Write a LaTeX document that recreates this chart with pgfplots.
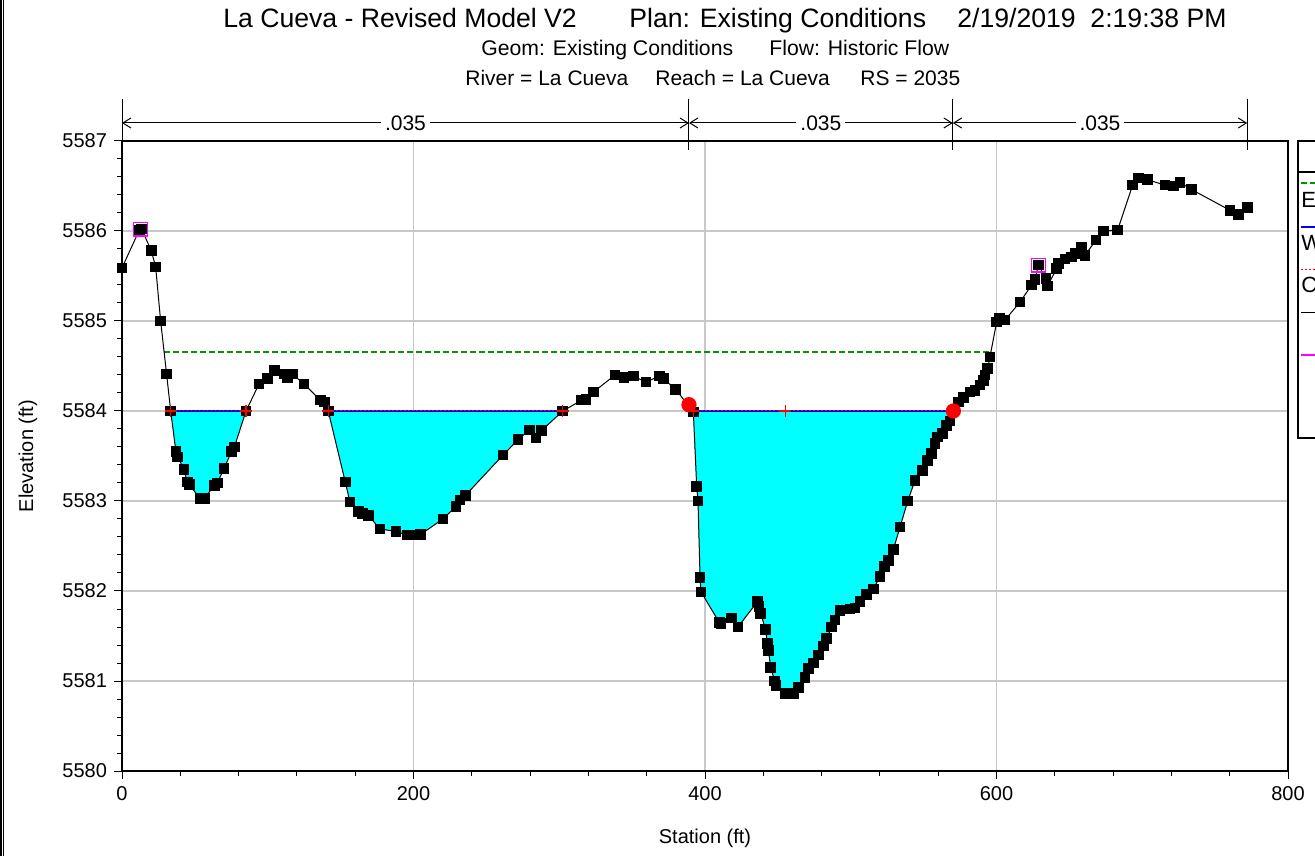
\documentclass[border=0pt]{standalone}
\usepackage{fontspec}
\setmainfont{Liberation Sans}
\usepackage{pgfplots}
\pgfplotsset{compat=1.18}
\usepackage{pgfplotstable}
\usetikzlibrary{arrows.meta}
\definecolor{gridgray}{RGB}{200,200,200}
\definecolor{egGreen}{RGB}{0,150,0}
\definecolor{wsBlue}{RGB}{0,0,255}
\definecolor{critRed}{RGB}{255,0,0}
\definecolor{bankMag}{RGB}{255,0,255}
\definecolor{waterCyan}{RGB}{0,255,255}

\pgfplotstableread{
x y
0 5585.59
11.9 5586.01
13.5 5586.02
20.1 5585.78
23.1 5585.60
26.5 5585.00
30.6 5584.41
33.4 5584.00
37.0 5583.55
38.2 5583.49
42.5 5583.35
44.8 5583.21
46.2 5583.18
53.5 5583.03
56.5 5583.03
63.3 5583.17
65.4 5583.20
70.0 5583.36
75.2 5583.55
77.1 5583.60
85.1 5584.00
94.0 5584.30
99.7 5584.36
104.8 5584.45
111.6 5584.41
113.7 5584.37
116.8 5584.41
124.9 5584.30
136.1 5584.12
138.8 5584.10
141.5 5584.00
153.2 5583.21
156.4 5582.99
162.4 5582.88
164.9 5582.86
169.0 5582.84
177.0 5582.69
188.0 5582.66
196.0 5582.62
201.0 5582.62
205.0 5582.63
220.2 5582.80
229.2 5582.94
231.9 5583.01
235.5 5583.06
261.4 5583.51
271.7 5583.68
279.5 5583.79
284.0 5583.70
287.7 5583.78
302.4 5584.00
315.4 5584.12
318.4 5584.13
323.4 5584.21
338.3 5584.40
344.4 5584.37
350.8 5584.39
359.5 5584.32
368.6 5584.39
371.4 5584.36
379.9 5584.24
392.0 5583.99
394.3 5583.16
395.2 5583.00
396.6 5582.15
397.3 5581.99
409.8 5581.65
411.0 5581.64
418.3 5581.70
422.6 5581.60
435.9 5581.88
437.0 5581.83
438.2 5581.75
441.6 5581.57
442.8 5581.42
443.5 5581.34
445.1 5581.15
447.8 5581.00
448.7 5580.95
454.9 5580.86
460.6 5580.86
464.0 5580.93
468.6 5581.04
470.9 5581.14
474.3 5581.20
477.7 5581.29
481.2 5581.39
483.5 5581.47
486.9 5581.60
489.2 5581.68
492.6 5581.78
499.5 5581.80
502.9 5581.81
506.3 5581.88
510.9 5581.96
515.5 5582.02
520.1 5582.16
523.1 5582.27
525.8 5582.34
529.2 5582.46
533.8 5582.71
539.1 5583.00
544.1 5583.23
549.4 5583.34
552.5 5583.45
555.5 5583.53
557.8 5583.64
559.4 5583.71
562.8 5583.75
565.8 5583.84
568.1 5583.89
570.4 5584.00
573.8 5584.10
577.2 5584.15
581.8 5584.21
585.3 5584.23
588.7 5584.29
591.0 5584.34
592.1 5584.40
594.0 5584.47
595.5 5584.60
600.1 5584.99
601.9 5585.03
605.8 5585.01
616.1 5585.21
624.1 5585.40
626.4 5585.46
628.7 5585.62
634.0 5585.47
634.9 5585.39
641.3 5585.58
642.4 5585.64
647.0 5585.69
651.6 5585.71
653.9 5585.75
658.5 5585.82
660.7 5585.73
668.3 5585.90
673.3 5586.00
683.1 5586.01
693.4 5586.51
697.3 5586.59
703.5 5586.57
715.6 5586.51
721.3 5586.50
725.9 5586.54
733.9 5586.46
760.2 5586.23
765.9 5586.18
772.1 5586.26
}\ground

\begin{document}
\begin{tikzpicture}
\begin{axis}[
  scale only axis, width=583pt, height=315pt,
  at={(0,0)}, anchor=south west,
  xmin=0, xmax=800, ymin=5580, ymax=5587,
  xtick={0,200,400,600,800}, ytick={5580,5581,5582,5583,5584,5585,5586,5587},
  minor x tick num=4, minor y tick num=4,
  tick align=outside, tick pos=left,
  major tick length=4pt, minor tick length=2.5pt,
  every tick/.style={black, line width=0.5pt},
  grid=major, major grid style={draw=gridgray, line width=0.8pt},
  axis line style={line width=0.8pt},
  tick label style={font=\fontsize{10}{12}\selectfont},
  label style={font=\fontsize{10}{12}\selectfont},
  /pgf/number format/1000 sep={},
  /pgf/number format/assume math mode=true,
  xlabel={Station (ft)}, ylabel={Elevation (ft)},
  xlabel style={at={(axis description cs:0.5,-0.1063)}, anchor=center},
  ylabel style={at={(axis description cs:-0.0806,0.5)}, anchor=center},
  clip=false,
]
% water fill
\addplot[fill=waterCyan, draw=none] coordinates {
(33.4,5584.00)(37.0,5583.55)(38.2,5583.49)(42.5,5583.35)(44.8,5583.21)(46.2,5583.18)(53.5,5583.03)(56.5,5583.03)(63.3,5583.17)(65.4,5583.20)(70.0,5583.36)(75.2,5583.55)(77.1,5583.60)(85.1,5584.00)} -- cycle;
\addplot[fill=waterCyan, draw=none] coordinates {
(141.5,5584.00)(153.2,5583.21)(156.4,5582.99)(162.4,5582.88)(164.9,5582.86)(169.0,5582.84)(177.0,5582.69)(188.0,5582.66)(196.0,5582.62)(201.0,5582.62)(205.0,5582.63)(220.2,5582.80)(229.2,5582.94)(231.9,5583.01)(235.5,5583.06)(261.4,5583.51)(271.7,5583.68)(279.5,5583.79)(284.0,5583.70)(287.7,5583.78)(302.4,5584.00)} -- cycle;
\addplot[fill=waterCyan, draw=none] coordinates {
(392.0,5584.00)(394.3,5583.16)(395.2,5583.00)(396.6,5582.15)(397.3,5581.99)(409.8,5581.65)(411.0,5581.64)(418.3,5581.70)(422.6,5581.60)(435.9,5581.88)(437.0,5581.83)(438.2,5581.75)(441.6,5581.57)(442.8,5581.42)(443.5,5581.34)(445.1,5581.15)(447.8,5581.00)(448.7,5580.95)(454.9,5580.86)(460.6,5580.86)(464.0,5580.93)(468.6,5581.04)(470.9,5581.14)(474.3,5581.20)(477.7,5581.29)(481.2,5581.39)(483.5,5581.47)(486.9,5581.60)(489.2,5581.68)(492.6,5581.78)(499.5,5581.80)(502.9,5581.81)(506.3,5581.88)(510.9,5581.96)(515.5,5582.02)(520.1,5582.16)(523.1,5582.27)(525.8,5582.34)(529.2,5582.46)(533.8,5582.71)(539.1,5583.00)(544.1,5583.23)(549.4,5583.34)(552.5,5583.45)(555.5,5583.53)(557.8,5583.64)(559.4,5583.71)(562.8,5583.75)(565.8,5583.84)(568.1,5583.89)(570.4,5584.00)} -- cycle;
% EG line
\addplot[egGreen, line width=1pt, dash pattern=on 3pt off 1.5pt] coordinates {(28.8,5584.66)(595.5,5584.66)};
% WS lines
\addplot[wsBlue, line width=0.7pt, unbounded coords=jump] coordinates {
(33.4,5584)(85.1,5584)(nan,nan)(141.5,5584)(302.4,5584)(nan,nan)(392,5584)(570.4,5584)};
% Crit (red dotted)
\addplot[critRed, line width=0.5pt, dash pattern=on 0.8pt off 1.2pt, unbounded coords=jump] coordinates {
(33.4,5584)(85.1,5584)(nan,nan)(141.5,5584)(302.4,5584)(nan,nan)(392,5584)(570.4,5584)};
% ground
\addplot[black, line width=0.5pt, mark=square*, mark size=2.4pt, mark options={fill=black}] table[x=x,y=y] {\ground};
% red plus marks
\addplot[only marks, mark=+, mark size=3pt, critRed, mark options={line width=0.6pt}] coordinates {
(33.4,5584)(85.1,5584)(141.5,5584)(302.4,5584)(392,5584)(455,5584)(570.4,5584)};
% red circles
\addplot[only marks, mark=*, mark size=3.6pt, critRed] coordinates {(389,5584.07)(570.4,5584.0)};
% bank stations
\addplot[only marks, mark=square, mark size=3.4pt, bankMag, mark options={line width=0.6pt}] coordinates {(12.7,5586.02)(628.7,5585.62)};

% Manning's n annotation
\draw[black, line width=0.5pt] (axis cs:0,5587.47) -- (axis cs:0,5586.90);
\draw[black, line width=0.5pt] (axis cs:389,5587.47) -- (axis cs:389,5586.90);
\draw[black, line width=0.5pt] (axis cs:570,5587.47) -- (axis cs:570,5586.90);
\draw[black, line width=0.5pt] (axis cs:772,5587.47) -- (axis cs:772,5586.90);
\draw[line width=0.5pt, {Straight Barb[length=4pt,width=5pt]}-{Straight Barb[length=4pt,width=5pt]}] (axis cs:0,5587.2) -- (axis cs:389,5587.2);
\draw[line width=0.5pt, {Straight Barb[length=4pt,width=5pt]}-{Straight Barb[length=4pt,width=5pt]}] (axis cs:389,5587.2) -- (axis cs:570,5587.2);
\draw[line width=0.5pt, {Straight Barb[length=4pt,width=5pt]}-{Straight Barb[length=4pt,width=5pt]}] (axis cs:570,5587.2) -- (axis cs:772,5587.2);
\node[fill=white, inner sep=2pt, font=\fontsize{10.5}{12}\selectfont] at (axis cs:194.5,5587.2) {.035};
\node[fill=white, inner sep=2pt, font=\fontsize{10.5}{12}\selectfont] at (axis cs:479.5,5587.2) {.035};
\node[fill=white, inner sep=2pt, font=\fontsize{10.5}{12}\selectfont] at (axis cs:671,5587.2) {.035};
\end{axis}

% titles
\node[anchor=base west, inner sep=0pt, font=\fontsize{13.3}{15}\selectfont] at (50.5pt,371.5pt) {La Cueva - Revised Model V2};
\node[anchor=base west, inner sep=0pt, font=\fontsize{13.3}{15}\selectfont] at (253.5pt,371.5pt) {Plan: Existing Conditions};
\node[anchor=base west, inner sep=0pt, font=\fontsize{13.3}{15}\selectfont] at (417.5pt,371.5pt) {2/19/2019\ \ 2:19:38 PM};
\node[anchor=base west, inner sep=0pt, font=\fontsize{10.6}{12}\selectfont] at (179.5pt,357.5pt) {Geom: Existing Conditions};
\node[anchor=base west, inner sep=0pt, font=\fontsize{10.6}{12}\selectfont] at (323.5pt,357.5pt) {Flow: Historic Flow};
\node[anchor=base west, inner sep=0pt, font=\fontsize{10.5}{12}\selectfont] at (171.5pt,342.5pt) {River = La Cueva};
\node[anchor=base west, inner sep=0pt, font=\fontsize{10.5}{12}\selectfont] at (266.5pt,342.5pt) {Reach = La Cueva};
\node[anchor=base west, inner sep=0pt, font=\fontsize{10.5}{12}\selectfont] at (369pt,342.5pt) {RS = 2035};

% legend (cut by picture edge, as in the reference)
\draw[line width=0.6pt] (588pt,166.5pt) rectangle (660pt,315pt);
\draw[line width=0.6pt] (588pt,299.5pt) -- (660pt,299.5pt);
\draw[egGreen, line width=1pt, dash pattern=on 3pt off 1.5pt] (589.5pt,294pt) -- (610pt,294pt);
\node[anchor=base west, inner sep=0pt, font=\fontsize{11}{13}\selectfont] at (589.5pt,281.5pt) {EG Historic};
\draw[wsBlue, line width=0.7pt] (589.5pt,272pt) -- (610pt,272pt);
\node[anchor=base west, inner sep=0pt, font=\fontsize{11}{13}\selectfont] at (589.5pt,260pt) {WS Historic};
\draw[critRed, line width=0.5pt, dash pattern=on 0.8pt off 1.2pt] (589.5pt,250.5pt) -- (610pt,250.5pt);
\node[anchor=base west, inner sep=0pt, font=\fontsize{11}{13}\selectfont] at (589.5pt,239pt) {Crit Historic};
\draw[black, line width=0.5pt] (589.5pt,229pt) -- (610pt,229pt);
\draw[bankMag, line width=0.7pt] (589.5pt,208pt) -- (610pt,208pt);

% image frame at left
\draw[black, line width=0.9pt] (-60.55pt,-42.5pt) -- (-60.55pt,385.5pt);
\draw[black, line width=0.5pt] (-59.4pt,-42.5pt) -- (-59.4pt,385.5pt);

\pgfresetboundingbox
\path[use as bounding box] (-61pt,-42.5pt) rectangle (596.5pt,385.5pt);
\end{tikzpicture}
\end{document}
